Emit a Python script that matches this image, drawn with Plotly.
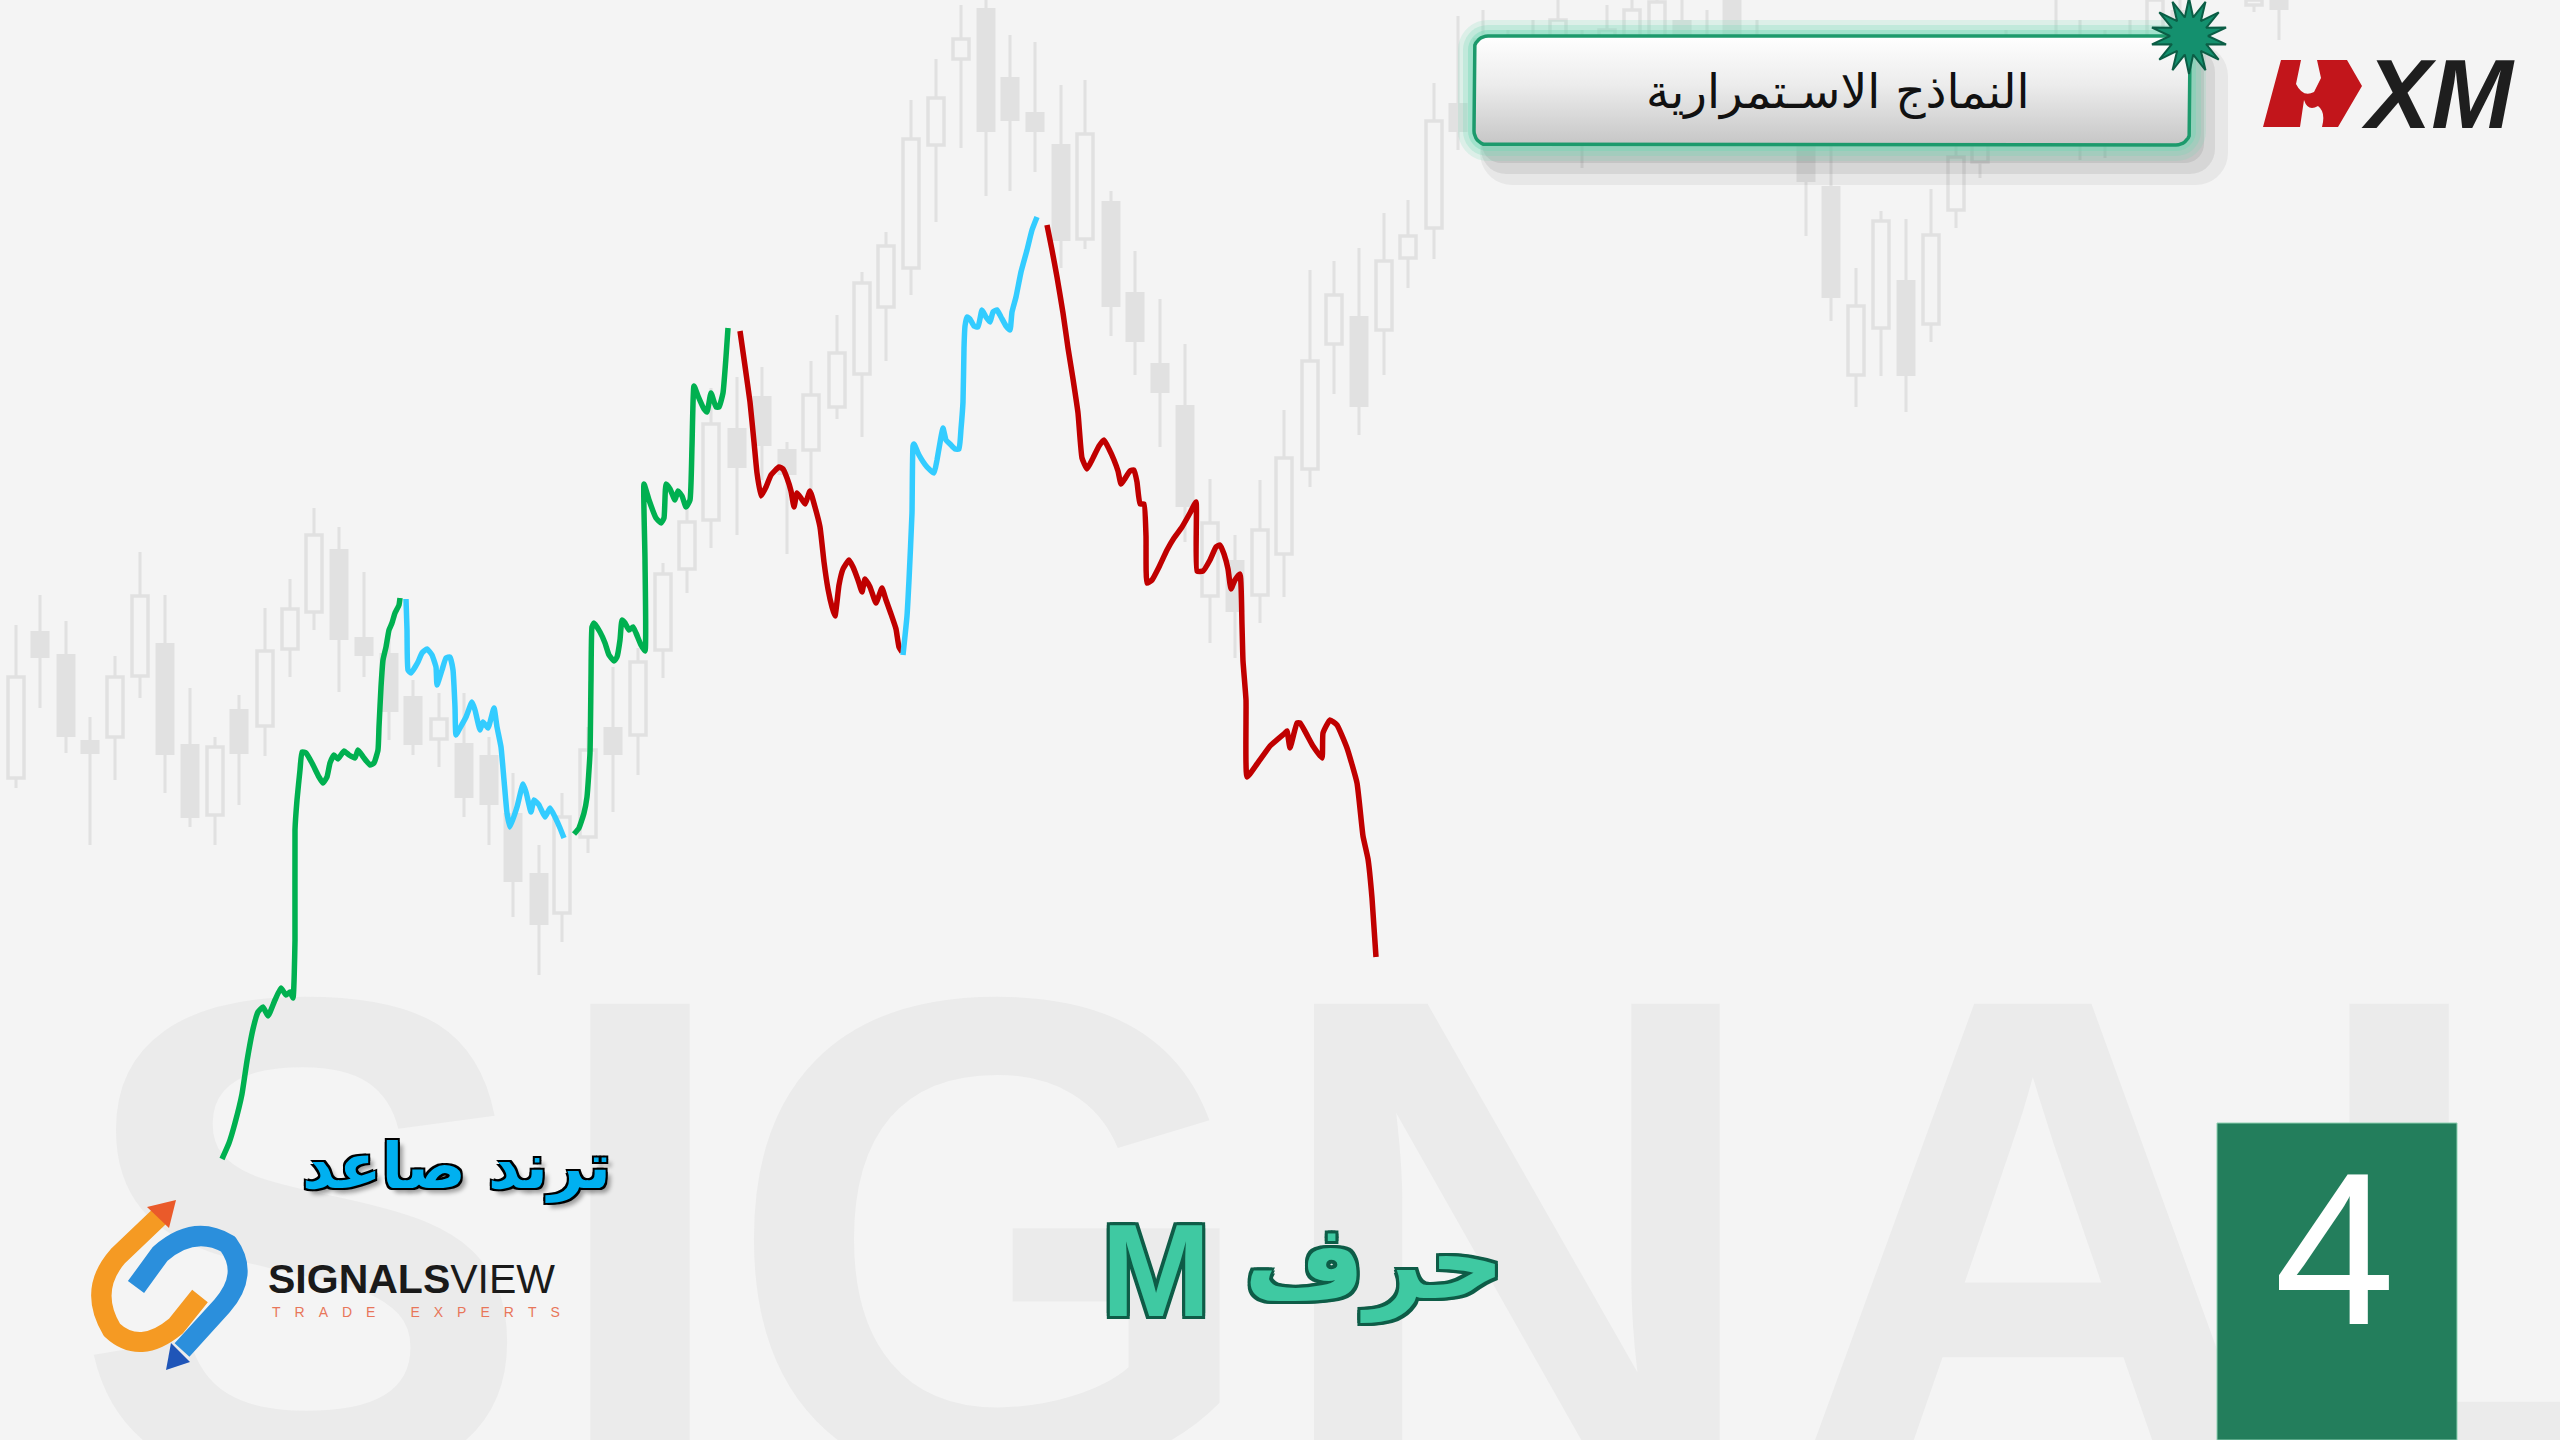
import numpy as np
import plotly.graph_objects as go

# ---------------- data (pixel-like chart units; y grows downward) -------------
green1_x = [222,229,235,242,247,253,258,263,268,275,281,286,290,293,295,295,297,300,302,306,312,319,323,327,330,334,338,344,349,355,358,364,370,374,378,379,381,383,386,389,392,395,399,400]
green1_y = [1159,1143,1123,1094,1061,1029,1012,1007,1016,1000,988,995,992,998,940,830,800,770,752,753,763,777,783,777,763,755,759,751,755,758,750,758,765,763,750,727,687,660,647,630,623,613,605,598]

cyan1_x = [406,407,408,411,418,422,427,432,436,437,442,446,450,453,455,456,460,466,472,475,480,483,488,494,497,501,504,507,510,517,523,526,531,534,539,545,550,555,560,564]
cyan1_y = [599,630,670,673,662,653,649,655,667,685,670,658,657,670,707,735,728,717,702,710,730,722,728,708,727,747,780,813,827,807,784,792,812,800,805,817,808,817,828,838]

green2_x = [574,579,584,587,590,591,592,594,600,605,609,614,617,620,622,625,629,633,636,641,645,645,644,649,656,661,664,666,670,675,678,682,686,690,692,694,698,704,707,711,716,719,723,726,728]
green2_y = [834,828,813,797,753,680,627,623,632,643,655,661,657,640,620,623,630,627,633,645,651,560,484,500,518,523,518,484,489,500,491,496,507,500,446,386,396,409,412,393,407,407,393,357,328]

red1_x = [740,745,750,754,757,761,766,771,779,783,787,791,794,797,801,805,810,815,820,824,828,832,835,839,843,849,853,858,862,865,870,876,882,886,891,896,899,902]
red1_y = [331,366,402,442,473,496,487,475,467,469,478,491,507,493,498,504,491,507,527,562,589,607,616,585,569,560,567,580,592,579,587,603,588,600,614,629,647,652]

cyan2_x = [903,907,909,912,913,914,919,927,934,937,941,943,946,950,955,959,961,963,964,965,967,970,974,978,982,986,990,993,997,1001,1006,1010,1012,1016,1021,1027,1032,1037]
cyan2_y = [655,616,580,513,446,444,455,467,473,460,437,428,440,444,449,449,429,402,348,326,317,319,326,327,310,317,322,312,310,317,326,330,312,297,272,250,230,217]

red2_x = [1047,1052,1057,1063,1068,1073,1078,1082,1087,1093,1099,1104,1109,1114,1118,1121,1124,1130,1134,1137,1140,1144,1146,1147,1152,1159,1167,1174,1182,1190,1196,1197,1203,1210,1216,1220,1224,1228,1231,1235,1240,1242,1243,1246,1247,1257,1270,1285,1287,1290,1297,1300,1313,1322,1323,1330,1337,1347,1357,1363,1368,1372,1376]
red2_y = [225,250,277,313,348,379,413,458,469,458,446,440,449,460,471,484,480,471,470,482,504,504,536,583,580,567,550,538,527,513,502,571,571,560,547,545,554,569,589,580,574,625,661,700,777,764,746,733,731,748,723,723,746,758,733,720,725,748,783,836,859,898,957]

# background candles
candle_x = [16,40,66,90,115,140,165,190,215,239,265,290,314,339,364,389,413,439,464,489,513,539,562,588,613,638,663,687,711,737,762,787,811,837,862,886,911,936,961,986,1010,1035,1061,1085,1111,1135,1160,1185,1210,1235,1260,1284,1310,1334,1359,1384,1408,1434,1458,
            1483,1508,1533,1558,1582,1607,1632,1657,1682,1707,1732,1757,1781,1806,1831,1856,1881,1906,1931,1956,1980,2006,2031,2056,2080,2105,2130,2155,2180,2254,2279]
body_top = [677,631,654,740,677,596,643,744,747,709,651,609,535,549,637,653,696,719,743,755,813,873,817,750,727,662,574,522,424,428,396,449,395,353,283,246,139,98,39,8,77,112,144,134,201,292,363,405,523,560,530,458,361,295,316,261,236,121,103,
            40,60,50,20,60,30,10,2,20,40,0,60,90,140,186,306,221,280,235,157,110,80,90,60,40,60,40,0,10,0,0]
body_bot = [778,658,737,754,737,676,755,818,815,754,726,649,612,640,656,712,745,739,798,805,882,925,913,837,755,735,650,569,520,468,446,475,450,407,374,307,268,145,59,132,121,132,241,239,307,342,393,507,596,612,595,554,469,344,407,330,258,228,132,
            110,120,100,80,140,90,60,40,70,110,90,120,130,182,298,375,328,376,324,210,162,120,130,120,110,120,90,40,60,5,10]
wick_top = [625,595,621,717,656,552,595,688,737,695,608,579,508,527,572,630,680,693,693,737,773,845,793,727,667,648,563,500,388,377,367,442,361,315,272,232,100,59,5,0,35,42,85,80,191,251,299,344,479,535,480,410,270,261,248,213,200,83,16,
            10,30,20,0,30,5,0,0,0,10,0,20,40,90,120,268,211,219,189,120,60,30,60,0,20,30,20,0,0,0,0]
wick_bot = [788,708,753,845,780,698,793,827,845,805,756,677,630,692,677,740,755,767,817,845,917,975,942,853,812,775,678,593,548,535,480,554,491,419,437,361,295,222,148,196,191,172,268,249,336,375,447,542,643,658,623,597,487,394,435,375,288,259,150,
            130,140,125,110,168,120,90,70,100,130,120,140,140,236,321,407,376,412,342,228,178,140,140,140,160,158,110,70,90,12,40]
hollow = [1,0,0,0,1,1,0,0,1,0,1,1,1,0,0,0,0,1,0,0,0,0,1,1,0,1,1,1,1,0,0,0,1,1,1,1,1,1,1,0,0,0,0,1,0,0,0,0,1,0,1,1,1,1,0,1,1,1,0,
          1,0,1,1,0,1,1,1,0,0,0,0,0,0,0,1,1,0,1,1,1,0,1,0,1,0,1,1,0,1,0]

watermark_letters = ["S", "I", "G", "N", "A", "L"]
watermark_x = [304, 640, 994, 1517, 2033, 2514]

title_text = "النماذج الاسـتمرارية"
trend_text = "ترند صاعد"
letter_arabic = "حرف"
letter_latin = "M"
number_text = "4"

# ---------------- figure ----------------
BG = "#f4f4f4"
CANDLE = "#e1e1e1"
fig = go.Figure()

# watermark
fig.add_trace(go.Scatter(x=watermark_x, y=[1306]*6, mode="text", text=watermark_letters,
                         textposition="middle center",
                         textfont=dict(family="Liberation Sans", size=690, color="#ebebeb", weight=700),
                         hoverinfo="skip"))

# candles: wicks, then bodies
fig.add_trace(go.Bar(x=candle_x, base=wick_top, y=[b - t for t, b in zip(wick_top, wick_bot)],
                     width=3, marker=dict(color=CANDLE, line=dict(width=0)), hoverinfo="skip"))
fx = [x for x, h in zip(candle_x, hollow) if not h]
fb = [t for t, h in zip(body_top, hollow) if not h]
fh = [b - t for t, b, h in zip(body_top, body_bot, hollow) if not h]
hx = [x for x, h in zip(candle_x, hollow) if h]
hb = [t for t, h in zip(body_top, hollow) if h]
hh = [b - t for t, b, h in zip(body_top, body_bot, hollow) if h]
fig.add_trace(go.Bar(x=fx, base=fb, y=fh, width=19, marker=dict(color=CANDLE, line=dict(width=0)), hoverinfo="skip"))
fig.add_trace(go.Bar(x=hx, base=hb, y=hh, width=16, marker=dict(color=BG, line=dict(color=CANDLE, width=3.5)), hoverinfo="skip"))

# trend line segments
segs = [(green1_x, green1_y, "#00b050"), (cyan1_x, cyan1_y, "#33ccff"), (green2_x, green2_y, "#00b050"),
        (red1_x, red1_y, "#c00000"), (cyan2_x, cyan2_y, "#33ccff"), (red2_x, red2_y, "#c00000")]
for xs, ys, c in segs:
    fig.add_trace(go.Scatter(x=xs, y=ys, mode="lines", line=dict(color=c, width=5.5, shape="spline", smoothing=0.4),
                             hoverinfo="skip"))


def rrect(x0, y0, x1, y1, r, n=10):
    xs, ys = [], []
    corners = [(x1 - r, y0 + r, -90, 0), (x1 - r, y1 - r, 0, 90), (x0 + r, y1 - r, 90, 180), (x0 + r, y0 + r, 180, 270)]
    for cx, cy, a0, a1 in corners:
        for a in np.linspace(np.radians(a0), np.radians(a1), n):
            xs.append(cx + r * np.cos(a))
            ys.append(cy + r * np.sin(a))
    xs.append(xs[0]); ys.append(ys[0])
    return xs, ys

# title box: shadow, glow, box
for dx, dy, ex, a in [(22, 24, 16, 0.05), (16, 20, 9, 0.07), (11, 15, 3, 0.08)]:
    sx, sy = rrect(1474 + dx - ex, 36 + dy - ex, 2190 + dx + ex, 145 + dy + ex, 16 + ex)
    fig.add_trace(go.Scatter(x=sx, y=sy, fill="toself", fillcolor=f"rgba(0,0,0,{a})", mode="none", hoverinfo="skip"))
for ex, a in [(16, 0.18), (11, 0.25), (6, 0.38)]:
    gx, gy = rrect(1474 - ex, 36 - ex, 2190 + ex, 145 + ex, 14 + ex)
    fig.add_trace(go.Scatter(x=gx, y=gy, fill="toself", fillcolor=f"rgba(110,215,180,{a})", mode="none", hoverinfo="skip"))
bx, by = rrect(1474, 36, 2190, 145, 14)
fig.add_trace(go.Scatter(x=bx, y=by, fill="toself", mode="lines", line=dict(color="#1c9a6c", width=3.5),
                         fillgradient=dict(type="vertical", start=36, stop=145,
                                           colorscale=[[0, "#ffffff"], [0.45, "#ececec"], [1, "#c6c6c6"]]),
                         hoverinfo="skip"))

# starburst
ang = np.linspace(0, 2 * np.pi, 29)
rad = np.where(np.arange(29) % 2 == 0, 38, 19)
fig.add_trace(go.Scatter(x=2189 + rad * np.sin(ang), y=36 + rad * np.cos(ang), fill="toself", fillcolor="#14906e",
                         mode="lines", line=dict(color="#0b5d45", width=2), hoverinfo="skip"))

shapes = []
# green number box
shapes.append(dict(type="rect", x0=2217, x1=2457, y0=1123, y1=1440, fillcolor="#237e5c",
                   line=dict(color="#8fd1b2", width=1), layer="above"))
# XM red bull mark
shapes.append(dict(type="path", layer="above", fillcolor="#c2151b", line=dict(width=0),
                   path="M2263,127 L2281,60 L2301,60 L2296,84 Q2303,98 2314,92 L2321,78 L2317,60 L2347,60 L2362,86 "
                        "L2338,127 L2322,127 Q2326,112 2318,106 Q2308,112 2304,100 L2300,127 Z"))
# signalsview icon
shapes.append(dict(type="path", layer="above", line=dict(color="#f59a23", width=20),
                   path="M162,1214 L118,1256 Q88,1290 112,1330 Q140,1356 176,1326 L200,1296"))
shapes.append(dict(type="path", layer="above", line=dict(color="#2b8fdc", width=20),
                   path="M136,1287 L160,1254 Q194,1224 228,1244 Q250,1274 222,1306 L182,1350"))
shapes.append(dict(type="path", layer="above", fillcolor="#ea5a2a", line=dict(width=0),
                   path="M176,1200 L169,1228 L147,1207 Z"))
shapes.append(dict(type="path", layer="above", fillcolor="#1f55b8", line=dict(width=0),
                   path="M166,1370 L190,1362 L171,1343 Z"))

ann = []
ann.append(dict(x=1838, y=92, text=title_text, showarrow=False,
                font=dict(family="DejaVu Sans", size=47, color="#111111")))
ann.append(dict(x=2438, y=94, text="XM", showarrow=False,
                font=dict(family="Liberation Sans", size=98, color="#1e1e1e", weight=900, style="italic")))
ann.append(dict(x=2334, y=1248, text=number_text, showarrow=False,
                font=dict(family="Liberation Sans", size=218, color="#ffffff")))
ann.append(dict(x=456, y=1166, text=trend_text, showarrow=False,
                font=dict(family="DejaVu Sans", size=63, color="#00b0f0", weight=700,
                          shadow="-2px -2px 0 #000, 2px -2px 0 #000, -2px 2px 0 #000, 2px 2px 0 #000, 5px 5px 4px rgba(0,0,0,0.35)")))
outline = "-3px -3px 0 #0e5c47, 3px -3px 0 #0e5c47, -3px 3px 0 #0e5c47, 3px 3px 0 #0e5c47, 0 3px 0 #0e5c47, 3px 0 0 #0e5c47, -3px 0 0 #0e5c47, 0 -3px 0 #0e5c47"
ann.append(dict(x=1156, y=1270, text=letter_latin, showarrow=False,
                font=dict(family="Liberation Sans", size=132, color="#3fc9a2", weight=700, shadow=outline)))
ann.append(dict(x=1374, y=1262, text=letter_arabic, showarrow=False,
                font=dict(family="DejaVu Sans", size=104, color="#3fc9a2", weight=700, shadow=outline)))
ann.append(dict(x=266, y=1279, xanchor="left", text="<b>SIGNALS</b>VIEW", showarrow=False,
                font=dict(family="Liberation Sans", size=41, color="#1a1a1a")))
ann.append(dict(x=270, y=1312, xanchor="left",
                text="T\u2003R\u2003A\u2003D\u2003E\u2003\u2003\u2002E\u2003X\u2003P\u2003E\u2003R\u2003T\u2003S",
                showarrow=False, font=dict(family="Liberation Sans", size=14, color="#e8765a")))

fig.update_layout(width=2560, height=1440, margin=dict(l=0, r=0, t=0, b=0), autosize=False,
                  paper_bgcolor=BG, plot_bgcolor=BG, showlegend=False, barmode="overlay",
                  xaxis=dict(range=[0, 2560], visible=False, fixedrange=True),
                  yaxis=dict(range=[1440, 0], visible=False, fixedrange=True),
                  shapes=shapes, annotations=ann)

fig.write_html("out.html", config={"displayModeBar": False},
               post_script="document.body.style.margin='0';document.body.style.overflow='hidden';")
